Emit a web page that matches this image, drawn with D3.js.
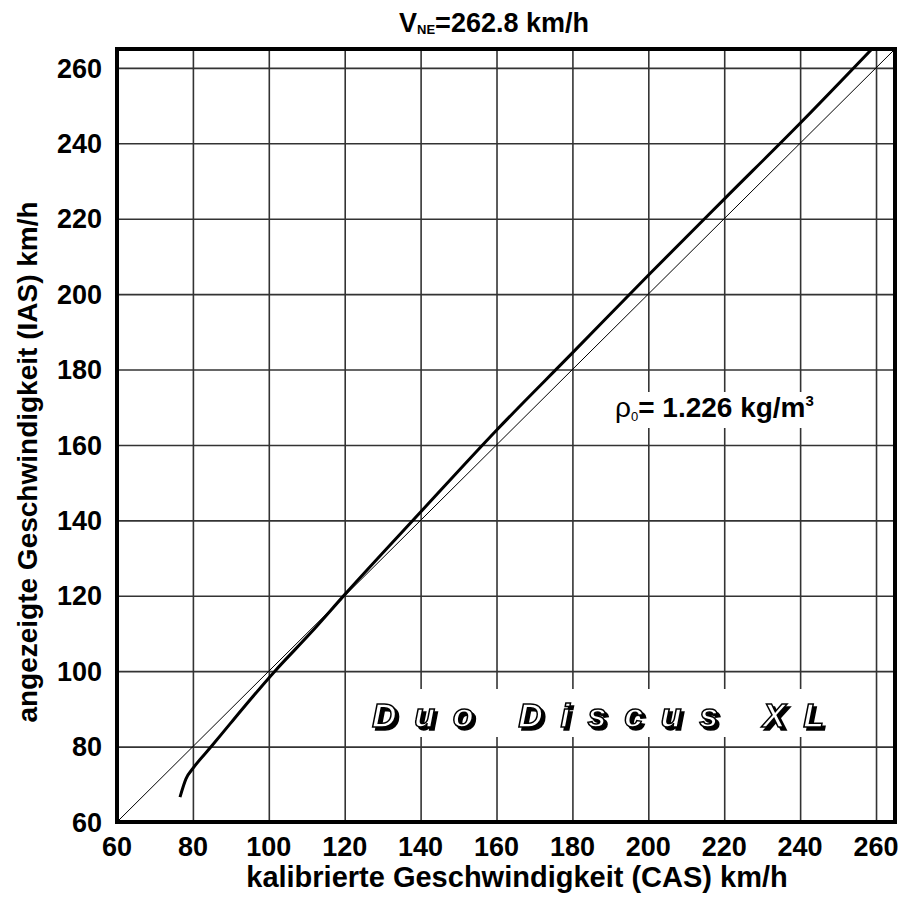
<!DOCTYPE html>
<html>
<head>
<meta charset="utf-8">
<script src="https://cdn.jsdelivr.net/npm/d3@7"></script>
<style>
body { margin: 0; background: #fff; }
text { font-family: "Liberation Sans", Arial, sans-serif; }
</style>
</head>
<body>
<svg width="901" height="900"></svg>
<script>
/* Fahrtmesser-Eichkurve Duo Discus XL */

// Kalibrierte Geschwindigkeit (CAS) und angezeigte Geschwindigkeit (IAS), km/h
var cas = [76.6, 78.2, 80, 85, 90, 101.6, 111, 120, 140, 160, 180, 200, 220, 240, 259.2];
var ias = [66.6, 71.5, 74.2, 80.2, 86.3, 100, 110.1, 120.3, 142.2, 163.9, 184.4, 205, 225.2, 245.3, 265.3];

var tickValues = [60, 80, 100, 120, 140, 160, 180, 200, 220, 240, 260];
var axisMin = 60, axisMax = 265;

var svg = d3.select("svg"),
    margin = {top: 49, right: 6, bottom: 78, left: 117},
    width = +svg.attr("width") - margin.left - margin.right,
    height = +svg.attr("height") - margin.top - margin.bottom;

var x = d3.scaleLinear().domain([axisMin, axisMax]).range([0, width]),
    y = d3.scaleLinear().domain([axisMin, axisMax]).range([height, 0]);

var defs = svg.append("defs");
defs.append("clipPath").attr("id", "plot")
    .append("rect").attr("width", width).attr("height", height);
var shadow = defs.append("filter").attr("id", "shadow")
    .attr("x", "-5%").attr("y", "-20%").attr("width", "110%").attr("height", "150%");
shadow.append("feOffset").attr("in", "SourceAlpha").attr("dx", 3).attr("dy", 3).attr("result", "off");
var merge = shadow.append("feMerge");
merge.append("feMergeNode").attr("in", "off");
merge.append("feMergeNode").attr("in", "SourceGraphic");

var g = svg.append("g")
    .attr("transform", "translate(" + margin.left + "," + margin.top + ")");

/* Gitter */
g.append("g")
    .attr("class", "grid")
    .call(d3.axisBottom(x).tickValues(tickValues).tickSize(height).tickFormat(""))
    .call(function (s) { s.select(".domain").remove(); });
g.append("g")
    .attr("class", "grid")
    .call(d3.axisLeft(y).tickValues(tickValues).tickSize(-width).tickFormat(""))
    .call(function (s) { s.select(".domain").remove(); });
g.selectAll(".grid line").attr("stroke", "#333").attr("stroke-width", 1.6);

/* Winkelhalbierende IAS = CAS */
g.append("line")
    .attr("x1", x(axisMin)).attr("y1", y(axisMin))
    .attr("x2", x(axisMax)).attr("y2", y(axisMax))
    .attr("stroke", "#000").attr("stroke-width", 1);

/* weisse Felder hinter Beschriftungen */
var rhoBox = g.append("rect").attr("fill", "#fff");
var logoBox = g.append("rect").attr("fill", "#fff");

/* Eichkurve */
var pts = cas.map(function (d, i) { return [d, ias[i]]; });
g.append("path")
    .datum(pts)
    .attr("clip-path", "url(#plot)")
    .attr("fill", "none")
    .attr("stroke", "#000")
    .attr("stroke-width", 3)
    .attr("stroke-linejoin", "round")
    .attr("d", d3.line()
        .x(function (d) { return x(d[0]); })
        .y(function (d) { return y(d[1]); })
        .curve(d3.curveMonotoneX));

/* Rahmen */
g.append("rect")
    .attr("width", width).attr("height", height)
    .attr("fill", "none").attr("stroke", "#000").attr("stroke-width", 4);

/* Achsbeschriftung */
g.selectAll(".xlab")
    .data(tickValues)
    .enter().append("text")
    .attr("class", "xlab")
    .attr("x", function (d) { return x(d); })
    .attr("y", height + 34)
    .attr("text-anchor", "middle")
    .attr("font-weight", "bold")
    .attr("font-size", 27)
    .text(function (d) { return d; });

g.selectAll(".ylab")
    .data(tickValues)
    .enter().append("text")
    .attr("class", "ylab")
    .attr("x", -15)
    .attr("y", function (d) { return y(d); })
    .attr("dy", "0.36em")
    .attr("text-anchor", "end")
    .attr("font-weight", "bold")
    .attr("font-size", 27)
    .text(function (d) { return d; });

svg.append("text")
    .attr("x", 517).attr("y", 887)
    .attr("text-anchor", "middle")
    .attr("font-weight", "bold")
    .attr("font-size", 29)
    .text("kalibrierte Geschwindigkeit (CAS) km/h");

svg.append("text")
    .attr("transform", "translate(37,462)rotate(-90)")
    .attr("text-anchor", "middle")
    .attr("font-weight", "bold")
    .attr("font-size", 28)
    .text("angezeigte Geschwindigkeit (IAS) km/h");

/* Titel */
var title = svg.append("text")
    .attr("x", 494).attr("y", 32)
    .attr("text-anchor", "middle")
    .attr("font-weight", "bold")
    .attr("font-size", 27);
title.append("tspan").text("V");
title.append("tspan").attr("font-size", 13).attr("dy", 2).text("NE");
title.append("tspan").attr("dy", -2).text("=262.8 km/h");

/* Luftdichte */
var rho = g.append("text")
    .attr("x", 615 - margin.left).attr("y", 417 - margin.top)
    .attr("font-size", 28);
rho.append("tspan").text("\u03c1");
rho.append("tspan").attr("font-size", 13).attr("dy", 4).text("0");
rho.append("tspan").attr("dy", -4).attr("font-weight", "bold").text("= 1.226 kg/m");
rho.append("tspan").attr("font-size", 15).attr("font-weight", "bold").attr("dy", -11).text("3");
var rb = rho.node().getBBox();
rhoBox.attr("x", rb.x - 6).attr("y", 392 - margin.top)
    .attr("width", rb.width + 12).attr("height", 36);

/* Schriftzug */
g.append("text")
    .attr("x", 372 - margin.left).attr("y", 727 - margin.top)
    .attr("textLength", 452).attr("lengthAdjust", "spacing")
    .attr("font-size", 34).attr("font-style", "italic").attr("font-weight", "bold")
    .attr("fill", "#fff").attr("stroke", "#000").attr("stroke-width", 1.5)
    .attr("filter", "url(#shadow)")
    .text("Duo Discus XL");
logoBox.attr("x", 360 - margin.left).attr("y", 689 - margin.top)
    .attr("width", 478).attr("height", 48);
</script>
</body>
</html>
